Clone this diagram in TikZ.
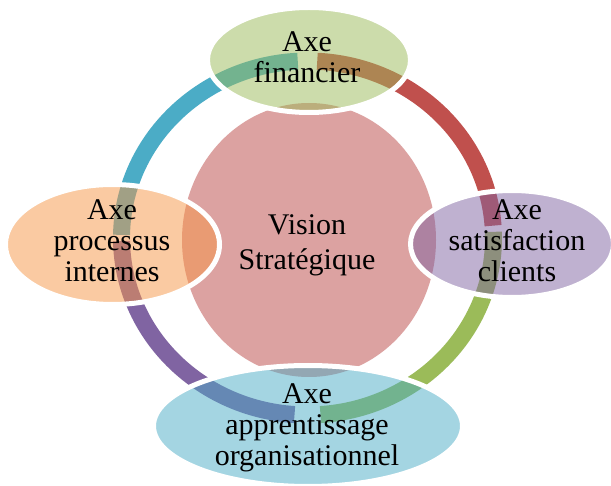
\documentclass[tikz,border=0pt]{standalone}
\usepackage{fontspec}
\setmainfont{Liberation Serif}
\usetikzlibrary{shapes.geometric}
\definecolor{cred}{HTML}{C0504D}
\definecolor{cgreen}{HTML}{9BBB59}
\definecolor{cpurple}{HTML}{8064A2}
\definecolor{cteal}{HTML}{4BACC6}
\definecolor{corange}{HTML}{F79646}
\definecolor{cpink}{HTML}{DCA2A1}
\begin{document}
\begin{tikzpicture}[x=1pt,y=-1pt,
  ringseg/.style={line width=17pt},
  axe/.style={ellipse, draw=white, line width=5pt, fill opacity=0.5, draw opacity=1, inner sep=0pt, outer sep=0pt},
  lbl/.style={align=center, inner sep=0pt, font=\fontsize{30}{31}\selectfont, anchor=base, text=black}
]
\useasboundingbox (0,0) rectangle (611,486);
\fill[white] (0,0) rectangle (611,486);
% central vision shape
\node[ellipse, fill=cpink, minimum width=254pt, minimum height=274pt, inner sep=0pt] (vision) at (309,240) {};
% ring segments
\coordinate (ringc) at (307.5,238);
\draw[ringseg, cred] (ringc) ++(-87:186 and 177) arc[start angle=-87, end angle=-4, x radius=186, y radius=177];
\draw[ringseg, cgreen] (ringc) ++(-2:186 and 177) arc[start angle=-2, end angle=86, x radius=186, y radius=177];
\draw[ringseg, cpurple] (ringc) ++(94:186 and 177) arc[start angle=94, end angle=179, x radius=186, y radius=177];
\draw[ringseg, cteal] (ringc) ++(181:186 and 177) arc[start angle=181, end angle=267, x radius=186, y radius=177];
% axis ellipses
\node[axe, fill=cgreen, minimum width=203pt, minimum height=105pt] (fin) at (309,60) {};
\node[axe, fill=cpurple, minimum width=203pt, minimum height=107pt] (cli) at (512,244) {};
\node[axe, fill=corange, minimum width=214pt, minimum height=120pt] (proc) at (112.5,244.5) {};
\node[axe, fill=cteal, minimum width=309pt, minimum height=121pt] (app) at (308,426) {};
% labels (anchor at baseline of last line)
\node[lbl] (fint) at (307,83) {Axe\\financier};
\node[lbl] (clit) at (517,282) {Axe\\satisfaction\\clients};
\node[lbl] (proct) at (112,282) {Axe\\processus\\internes};
\node[lbl] (appt) at (307,465) {Axe\\apprentissage\\organisationnel};
\node[lbl, font=\fontsize{30}{35}\selectfont] (vist) at (307,270) {Vision\\Stratégique};
\end{tikzpicture}
\end{document}
